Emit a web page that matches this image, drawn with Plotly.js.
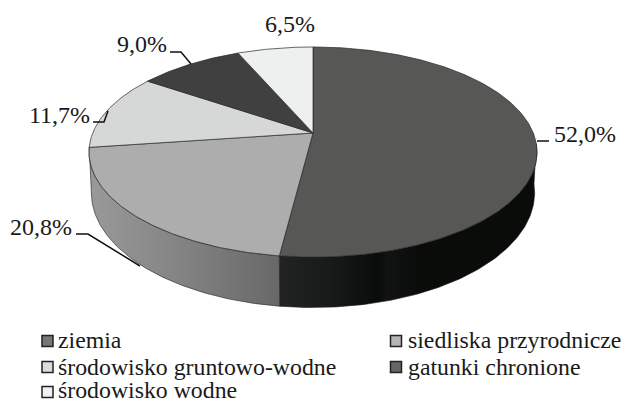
<!DOCTYPE html>
<html><head><meta charset="utf-8">
<script src="https://cdn.plot.ly/plotly-3.0.1.min.js"></script>
<style>html,body{margin:0;padding:0;background:#fff}#c{width:624px;height:401px}</style></head>
<body><div id="c"></div>
<script>
const categories = ["ziemia","siedliska przyrodnicze","środowisko gruntowo-wodne","gatunki chronione","środowisko wodne"];
const shares = [52.0,20.8,11.7,9.0,6.5];
const valueLabels = ["52,0%","20,8%","11,7%","9,0%","6,5%"];
const topColors = ["#575756","#adadad","#d6d8d8","#404040","#eef0ef"];
const swatchColors = ["#777777","#b4b4b4","#dcdcdc","#666666","#f1f1f1"];

// projected disc geometry: half-width, half-height and centre y of the top and bottom rims
const X0=313, K=0.181;
const RIM=[{A:220.3,B:101.6,Y:133},{A:218,B:111,Y:172}];
function proj(deg,h){
  const t=deg*Math.PI/180, w=1+K*Math.cos(t), r=RIM[h];
  return [X0+r.A*Math.sin(t)/w, r.Y-r.B*Math.cos(t)/w];
}
function arc(a,b,h){
  const n=Math.max(2,Math.ceil(Math.abs(b-a)*1.5)), xs=[], ys=[];
  for(let i=0;i<=n;i++){const p=proj(a+(b-a)*i/n,h);xs.push(p[0]);ys.push(p[1]);}
  return [xs,ys];
}
const traces=[];
let cum=0; const bounds=shares.map(s=>{const r=[cum*3.6,(cum+s)*3.6];cum+=s;return r;});

// walls
const wallRanges=[[96,bounds[0][1]],[bounds[1][0],bounds[1][1]]];
const wallScales=[
 [[0,"#222423"],[0.2,"#181a19"],[0.38,"#0a0c0a"],[0.42,"#111312"],[0.55,"#0a0c0a"],[1,"#0a0c0a"]],
 [[0,"#9a9a9a"],[0.5,"#828282"],[1,"#686868"]]
];
wallRanges.forEach((r,i)=>{
  const t=arc(r[0],r[1],0), b=arc(r[1],r[0],1);
  traces.push({type:"scatter",mode:"lines",x:t[0].concat(b[0],[t[0][0]]),y:t[1].concat(b[1],[t[1][0]]),
    fill:"toself",line:{color:"#1c1c1c",width:0.6},hoverinfo:"skip",
    fillgradient:{type:"horizontal",colorscale:wallScales[i]}});
});
// top slices
categories.forEach((c,i)=>{
  const t=arc(bounds[i][0],bounds[i][1],0);
  traces.push({type:"scatter",mode:"lines",name:c,x:[X0].concat(t[0],[X0]),y:[RIM[0].Y].concat(t[1],[RIM[0].Y]),
    fill:"toself",fillcolor:topColors[i],line:{color:"#2a2a2a",width:0.7},hoverinfo:"name"});
});
// leader lines
const leaderX=[[537,549],[76,88,140],[93,104,108],[170,181,191]];
const leaderY=[[141,141],[234,234,266],[122,122,111],[52,52,64]];
leaderX.forEach((lx,i)=>traces.push({type:"scatter",mode:"lines",x:lx,y:leaderY[i],line:{color:"#111",width:1.5},hoverinfo:"skip"}));

const labelX=[552,8,27,115,263], labelY=[134,227,115,44,24];
const ann=[];
const serif="Liberation Serif, Times New Roman, serif";
valueLabels.forEach((t,i)=>ann.push({x:labelX[i],y:labelY[i],text:t,showarrow:false,xanchor:"left",yanchor:"middle",font:{family:serif,size:24,color:"#1a1a1a"}}));
// legend
const legX=[56,406,56,406,56], legY=[340,340,367,367,390], swX=[47.5,396,47.5,396,47.5], swY=[341,341,367,367,392];
categories.forEach((c,i)=>ann.push({x:legX[i],y:legY[i],text:c,showarrow:false,xanchor:"left",yanchor:"middle",font:{family:serif,size:23.8,color:"#1a1a1a"}}));
traces.push({type:"scatter",mode:"markers",x:swX,y:swY,hoverinfo:"skip",
  marker:{symbol:"square",size:11,color:swatchColors,line:{color:"#222",width:1.5}}});

Plotly.newPlot("c",traces,{width:624,height:401,margin:{l:0,r:0,t:0,b:0},paper_bgcolor:"#fff",plot_bgcolor:"#fff",showlegend:false,
  xaxis:{range:[0,624],visible:false,fixedrange:true},yaxis:{range:[401,0],visible:false,fixedrange:true},annotations:ann},{displayModeBar:false,staticPlot:true});
</script></body></html>
